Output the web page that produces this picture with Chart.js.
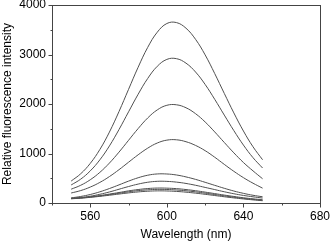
<!DOCTYPE html>
<html>
<head>
<meta charset="utf-8">
<script src="https://cdn.jsdelivr.net/npm/chart.js@4"></script>
<style>
  html, body { margin: 0; padding: 0; background: #fff; }
  #wrap { width: 331px; height: 243px; }
</style>
</head>
<body>
<div id="wrap"><canvas id="myChart" width="331" height="243"></canvas></div>
<script>
let chart

// emission wavelength (nm)
const wavelengths = [550, 555, 560, 565, 570, 575, 580, 585, 590, 595, 600, 605, 610, 615, 620, 625, 630, 635, 640, 645, 650];

// relative fluorescence intensity, one spectrum per concentration
const curve1 = [443, 591, 801, 1081, 1433, 1848, 2297, 2743, 3144, 3451, 3626, 3645, 3531, 3306, 2992, 2615, 2214, 1820, 1454, 1136, 874];
const curve2 = [364, 482, 649, 872, 1153, 1484, 1842, 2197, 2516, 2762, 2901, 2916, 2825, 2646, 2395, 2095, 1776, 1462, 1170, 916, 707];
const curve3 = [279, 358, 470, 619, 807, 1028, 1267, 1504, 1718, 1881, 1974, 1984, 1924, 1804, 1637, 1436, 1223, 1013, 818, 649, 490];
const curve4 = [202, 251, 322, 416, 534, 673, 824, 974, 1108, 1212, 1270, 1277, 1238, 1163, 1057, 925, 780, 640, 512, 400, 300];
const curve5 = [103, 132, 172, 226, 292, 366, 442, 510, 561, 587, 586, 566, 527, 477, 418, 357, 297, 242, 195, 156, 126];
const curve6 = [96, 112, 137, 176, 223, 278, 333, 382, 419, 438, 437, 422, 395, 358, 315, 271, 227, 187, 153, 125, 100];
const curve7 = [90, 105, 125, 150, 180, 212, 245, 272, 292, 302, 300, 290, 272, 248, 220, 190, 160, 132, 106, 84, 66];
const curve8 = [88, 101, 120, 143, 170, 198, 226, 250, 266, 275, 273, 263, 247, 225, 199, 171, 144, 118, 94, 73, 55];
const curve9 = [85, 97, 114, 134, 157, 181, 204, 224, 238, 245, 243, 234, 219, 199, 176, 151, 126, 103, 82, 63, 46];

const curves = [curve1, curve2, curve3, curve4, curve5, curve6, curve7, curve8, curve9];

const xTicks = [540, 560, 580, 600, 620, 640, 660, 680];
const xLabelled = [560, 600, 640, 680];
const yLabelled = [0, 1000, 2000, 3000, 4000];

Chart.defaults.color = '#000';
Chart.defaults.font.size = 12;
Chart.defaults.font.family = "'Liberation Sans', Arial, sans-serif";

const AXIS = '#444';

// draws the box frame and outward tick marks (long for labelled, short for minor)
const framePlugin = {
    id: 'frame',
    afterDraw(chart) {
        const {ctx, chartArea: {left, right, top, bottom}, scales: {x, y}} = chart;
        ctx.save();
        ctx.strokeStyle = AXIS;
        ctx.lineWidth = 1;
        ctx.strokeRect(Math.round(left) + 0.5, Math.round(top) + 0.5,
            Math.round(right - left), Math.round(bottom - top));
        ctx.beginPath();
        x.ticks.forEach(t => {
            const px = Math.round(x.getPixelForValue(t.value)) + 0.5;
            const len = xLabelled.includes(t.value) ? 4 : 2;
            ctx.moveTo(px, Math.round(bottom) + 0.5);
            ctx.lineTo(px, Math.round(bottom) + 0.5 + len);
        });
        y.ticks.forEach(t => {
            const py = Math.round(y.getPixelForValue(t.value)) + 0.5;
            const len = yLabelled.includes(t.value) ? 4 : 2;
            ctx.moveTo(Math.round(left) + 0.5, py);
            ctx.lineTo(Math.round(left) + 0.5 - len, py);
        });
        ctx.stroke();
        ctx.restore();
    }
};

const ctx = document.getElementById('myChart');
const config = {
    type: 'line',
    data: {
        datasets: curves.map((c, i) => ({
            label: 'c' + (i + 1),
            data: c.map((v, j) => ({x: wavelengths[j], y: v})),
            borderColor: '#505050',
            borderWidth: 1,
            pointRadius: 0,
            tension: 0.4,
            fill: false,
        }))
    },
    options: {
        responsive: false,
        animation: false,
        layout: {padding: {top: 5, right: 11, bottom: 0, left: 0}},
        plugins: {
            legend: {display: false},
            tooltip: {enabled: false},
        },
        scales: {
            x: {
                type: 'linear',
                min: 540,
                max: 680,
                afterBuildTicks: axis => { axis.ticks = xTicks.map(v => ({value: v})); },
                afterFit: axis => { axis.height = 40; axis.paddingRight = 0; axis.paddingLeft = 0; },
                grid: {display: false, drawTicks: false},
                border: {display: false},
                ticks: {
                    padding: 6,
                    maxRotation: 0,
                    autoSkip: false,
                    callback: v => xLabelled.includes(v) ? String(v) : '',
                },
                title: {display: true, text: 'Wavelength (nm)', padding: {top: 4, bottom: 1}},
            },
            y: {
                min: 0,
                max: 4000,
                afterFit: axis => { axis.width = 52; axis.paddingTop = 0; axis.paddingBottom = 0; },
                grid: {display: false, drawTicks: false},
                border: {display: false},
                ticks: {
                    stepSize: 500,
                    padding: 6,
                    autoSkip: false,
                    callback: v => yLabelled.includes(v) ? String(v) : '',
                },
                title: {display: true, text: 'Relative fluorescence intensity', padding: {top: 0, bottom: 2}},
            },
        },
    },
    plugins: [framePlugin],
};
chart = new Chart(ctx, config);
</script>
</body>
</html>
